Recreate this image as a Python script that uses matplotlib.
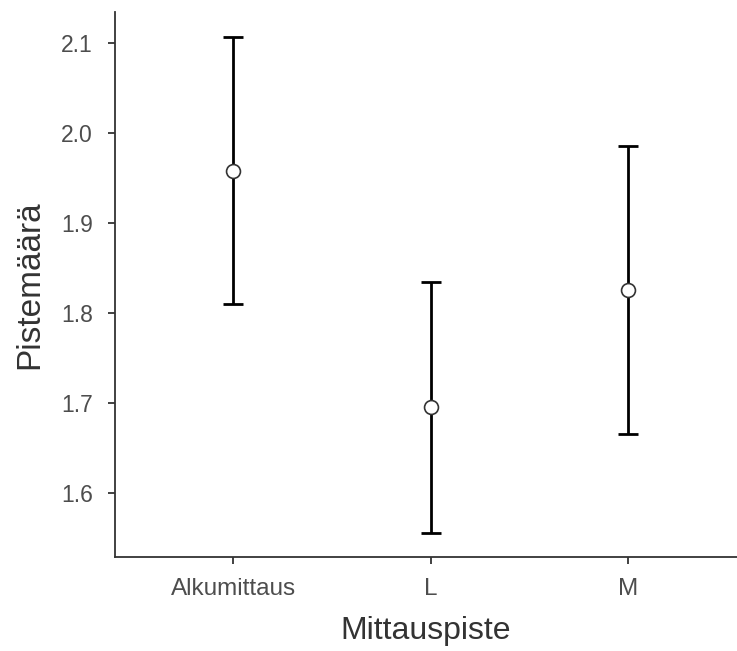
import matplotlib
matplotlib.use("Agg")
import matplotlib.pyplot as plt

# Mittauspisteet ja keskiarvot luottamusväleineen
kategoriat = ["Alkumittaus", "L", "M"]
keskiarvot = [1.958, 1.696, 1.825]
ylarajat = [2.106, 1.834, 1.985]
alarajat = [1.810, 1.556, 1.665]

plt.rcParams['font.family'] = ['Liberation Sans', 'DejaVu Sans']

fig = plt.figure(figsize=(7.37, 6.51), dpi=100)
ax = fig.add_axes([115/737, 1 - 557/651, 1 - 115/737, (557 - 12)/651])

x = list(range(len(kategoriat)))
virhe_ala = [m - a for m, a in zip(keskiarvot, alarajat)]
virhe_yla = [y - m for m, y in zip(keskiarvot, ylarajat)]

ax.errorbar(x, keskiarvot, yerr=[virhe_ala, virhe_yla], fmt='none',
            ecolor='black', elinewidth=2, capsize=7, capthick=2, zorder=2)
ax.plot(x, keskiarvot, 'o', markersize=10, markerfacecolor='white',
        markeredgecolor='#333333', markeredgewidth=1.2, zorder=3)

ax.set_xlim(-0.6, 2.55)
ax.set_ylim(1.529, 2.134)
ax.set_xticks(x)
ax.set_xticklabels(kategoriat, fontsize=17.5)
ax.set_yticks([1.6, 1.7, 1.8, 1.9, 2.0, 2.1])
ax.set_yticklabels(["1.6", "1.7", "1.8", "1.9", "2.0", "2.1"], fontsize=16.5)

for s in ['top', 'right']:
    ax.spines[s].set_visible(False)
for s in ['left', 'bottom']:
    ax.spines[s].set_color('#333333')
    ax.spines[s].set_linewidth(1.3)

ax.tick_params(axis='both', colors='#333333', labelcolor='#4d4d4d',
               length=5, width=1.3)
ax.tick_params(axis='y', pad=11)
ax.tick_params(axis='x', pad=10)

ax.set_xlabel("Mittauspiste", fontsize=23, color='#333333', labelpad=12)
ax.set_ylabel("Pistemäärä", fontsize=24, color='#333333', labelpad=11)

fig.savefig("out.png", dpi=100)
